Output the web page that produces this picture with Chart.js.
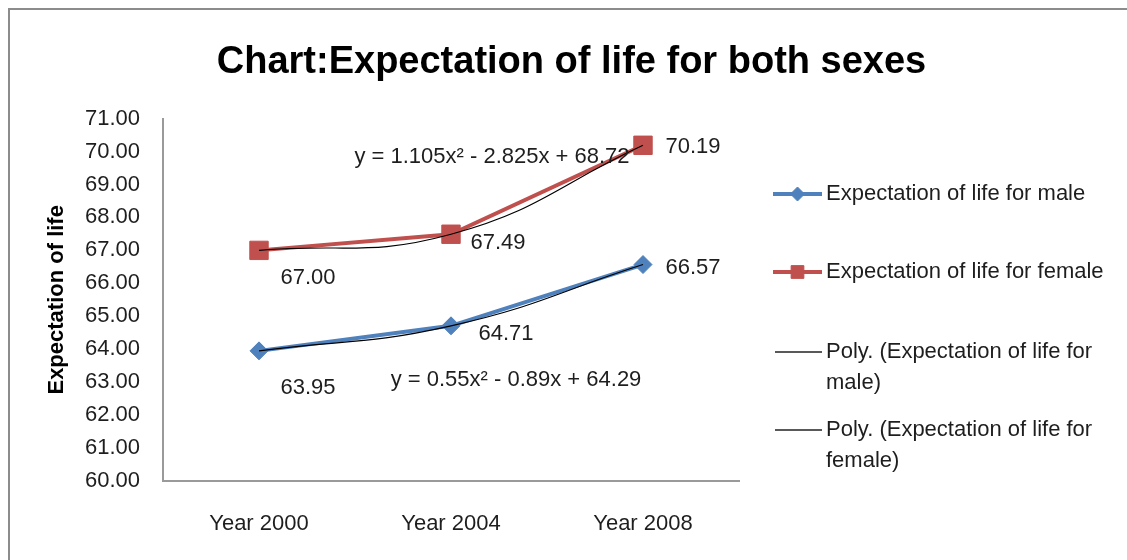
<!DOCTYPE html>
<html>
<head>
<meta charset="utf-8">
<script src="https://cdn.jsdelivr.net/npm/chart.js@4.4.1/dist/chart.umd.min.js"></script>
<style>
  html, body { margin: 0; padding: 0; background: #fff; }
  #wrap { width: 1127px; height: 560px; }
</style>
</head>
<body>
<div id="wrap"><canvas id="lifeChart" width="1127" height="560"></canvas></div>
<script>
var categories = ['Year 2000', 'Year 2004', 'Year 2008'];
var maleLife = [63.95, 64.71, 66.57];
var femaleLife = [67.00, 67.49, 70.19];
var yMin = 60, yMax = 71, yStep = 1;
var maleEquation = 'y = 0.55x² - 0.89x + 64.29';
var femaleEquation = 'y = 1.105x² - 2.825x + 68.72';
var seriesNames = ['Expectation of life for male', 'Expectation of life for female'];
var trendNames = [['Poly. (Expectation of life for', 'male)'], ['Poly. (Expectation of life for', 'female)']];

var FONT = '"Liberation Sans Narrow", "Liberation Sans", Arial, sans-serif';
var BLUE = '#4f81bd', RED = '#c0504d', TEXT = '#1e1e1e', AXIS = '#9a9a9a';

// labels, equations, legend and the frame, drawn Excel style
var excelExtras = {
  id: 'excelExtras',
  afterDraw: function (chart) {
    var ctx = chart.ctx, xs = chart.scales.x, ys = chart.scales.y;
    ctx.save();

    // chart frame (only top and left edges are in view)
    ctx.strokeStyle = '#8c8c8c';
    ctx.lineWidth = 2;
    ctx.beginPath();
    ctx.moveTo(9, 560); ctx.lineTo(9, 9); ctx.lineTo(1127, 9);
    ctx.stroke();

    ctx.font = '22px ' + FONT;
    ctx.fillStyle = TEXT;
    ctx.textAlign = 'center';
    ctx.textBaseline = 'middle';

    // data labels, nudged like in the original
    var offsets = [[[49, 37], [55, 8], [50, 3]], [[49, 28], [47, 9], [50, 2]]];
    [0, 1].forEach(function (d) {
      chart.getDatasetMeta(d).data.forEach(function (pt, i) {
        var v = chart.data.datasets[d].data[i];
        ctx.fillText(v.toFixed(2), pt.x + offsets[d][i][0], pt.y + offsets[d][i][1]);
      });
    });

    // trendline equations
    ctx.fillText(femaleEquation, xs.getPixelForValue(1) + 41, ys.getPixelForValue(69.85));
    ctx.fillText(maleEquation, xs.getPixelForValue(1) + 65, ys.getPixelForValue(63.07));

    // legend
    var lx0 = 773, lx1 = 822, tx = 826;
    ctx.textAlign = 'left';
    var rows = [
      { y: 194, color: BLUE, width: 4, style: 'rectRot', r: 7, text: [seriesNames[0]] },
      { y: 272, color: RED, width: 4, style: 'rect', r: 9, text: [seriesNames[1]] },
      { y: 352, color: '#222', width: 1.5, style: null, text: trendNames[0] },
      { y: 430, color: '#222', width: 1.5, style: null, text: trendNames[1] }
    ];
    rows.forEach(function (row) {
      ctx.strokeStyle = row.color;
      ctx.lineWidth = row.width;
      ctx.beginPath();
      ctx.moveTo(row.style ? lx0 : lx0 + 2, row.y);
      ctx.lineTo(lx1, row.y);
      ctx.stroke();
      if (row.style) {
        ctx.fillStyle = row.color;
        ctx.lineWidth = 1;
        Chart.helpers.drawPoint(ctx, { pointStyle: row.style, radius: row.r, rotation: 0, borderWidth: 1 }, (lx0 + lx1) / 2, row.y);
      }
      ctx.fillStyle = TEXT;
      row.text.forEach(function (t, k) {
        ctx.fillText(t, tx, row.y + k * 31);
      });
    });

    ctx.restore();
  }
};

new Chart(document.getElementById('lifeChart'), {
  type: 'line',
  data: {
    labels: categories,
    datasets: [
      {
        label: seriesNames[0], data: maleLife, order: 2,
        borderColor: BLUE, backgroundColor: BLUE, borderWidth: 4, tension: 0,
        pointStyle: 'rectRot', pointRadius: 9, pointBorderWidth: 1,
        pointBackgroundColor: BLUE, pointBorderColor: BLUE
      },
      {
        label: seriesNames[1], data: femaleLife, order: 2,
        borderColor: RED, backgroundColor: RED, borderWidth: 4, tension: 0,
        pointStyle: 'rect', pointRadius: 13, pointBorderWidth: 1,
        pointBackgroundColor: RED, pointBorderColor: RED
      },
      {
        label: trendNames[0].join(' '), data: maleLife, order: 1,
        borderColor: '#000', borderWidth: 1.2, pointRadius: 0, tension: 0.45
      },
      {
        label: trendNames[1].join(' '), data: femaleLife, order: 1,
        borderColor: '#000', borderWidth: 1.2, pointRadius: 0, tension: 0.45
      }
    ]
  },
  options: {
    responsive: false,
    animation: false,
    layout: { padding: { left: 16, right: 0, top: 0, bottom: 0 } },
    plugins: {
      legend: { display: false },
      tooltip: { enabled: false },
      title: {
        display: true,
        text: 'Chart:Expectation of life for both sexes',
        color: '#000',
        font: { family: FONT, size: 38, weight: 'bold' },
        padding: { top: 40, bottom: 33 }
      }
    },
    scales: {
      x: {
        offset: true,
        grid: { display: false },
        border: { display: true, color: AXIS, width: 2 },
        ticks: { color: TEXT, font: { family: FONT, size: 22 }, padding: 22 },
        afterFit: function (s) { s.height = 79; }
      },
      y: {
        min: yMin, max: yMax,
        grid: { display: false },
        border: { display: true, color: AXIS, width: 2 },
        ticks: {
          stepSize: yStep, color: TEXT, font: { family: FONT, size: 22 }, padding: 15,
          callback: function (v) { return v.toFixed(2); }
        },
        title: {
          display: true, text: 'Expectation of life', color: '#000',
          font: { family: FONT, size: 22, weight: 'bold' },
          padding: { top: 28, bottom: 0 }
        },
        afterFit: function (s) { s.width = 147; }
      },
      legendSpace: {
        type: 'linear', position: 'right', axis: 'y',
        grid: { display: false }, border: { display: false },
        ticks: { display: false },
        afterFit: function (s) { s.width = 388; }
      }
    }
  },
  plugins: [excelExtras]
});
</script>
</body>
</html>
